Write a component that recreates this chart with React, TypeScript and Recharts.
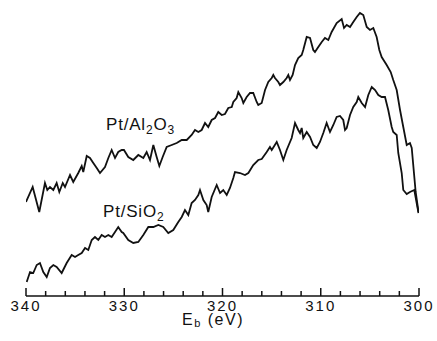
import { LineChart, Line, XAxis, YAxis, Customized } from 'recharts';

// binding energy (eV) and intensity (arb. units)
const al2o3Ev = [
  340.0, 339.32, 338.65, 338.07, 337.83, 337.56, 337.22, 336.88, 336.61, 336.26, 336.03, 335.52, 335.19,
  334.68, 334.33, 334.17, 333.82, 333.49, 333.15, 332.8, 332.47, 331.96, 331.62, 331.28, 330.94, 330.61,
  330.26, 330.03, 329.59, 329.08, 328.57, 328.06, 327.72, 327.38, 327.04, 326.7, 326.43, 326.09, 325.68,
  325.17, 324.66, 324.15, 323.64, 323.14, 322.8, 322.46, 322.12, 321.78, 321.45, 321.1, 320.76, 320.43,
  320.08, 319.75, 319.41, 319.06, 318.9, 318.56, 318.39, 318.05, 317.88, 317.54, 317.2, 316.87, 316.52,
  316.36, 316.01, 315.67, 315.34, 314.99, 314.83, 314.66, 314.32, 314.15, 313.81, 313.47, 313.3, 313.13,
  312.86, 312.62, 312.29, 311.94, 311.78, 311.43, 311.09, 310.76, 310.59, 310.25, 309.9, 309.57, 309.23,
  308.89, 308.38, 307.87, 307.63, 307.36, 307.02, 306.69, 306.34, 306.01, 305.67, 305.32, 304.99, 304.65,
  304.31, 304.04, 303.8, 303.29, 302.88, 302.62, 302.27, 301.93, 301.6, 301.25, 300.92, 300.74, 300.34,
  300.05,
];
const al2o3Counts = [
  94, 109, 84, 113, 106, 109, 106, 113, 104, 113, 109, 121, 114,
  123, 130, 124, 140, 138, 133, 128, 123, 129, 138, 146, 138, 144,
  146, 146, 139, 136, 141, 138, 144, 136, 151, 139, 130, 139, 149,
  151, 153, 156, 156, 161, 166, 164, 166, 173, 169, 176, 178, 184,
  181, 182, 188, 189, 194, 198, 204, 198, 193, 199, 203, 203, 194,
  191, 193, 206, 214, 218, 221, 218, 214, 211, 214, 218, 221, 216,
  221, 231, 238, 241, 246, 259, 258, 246, 244, 249, 254, 258, 256,
  264, 273, 277, 268, 271, 269, 274, 279, 283, 281, 269, 266, 268,
  259, 246, 239, 231, 224, 216, 206, 186, 169, 151, 153, 148, 104,
  84,
];

const sio2Ev = [
  339.93, 339.59, 339.26, 338.91, 338.58, 338.24, 337.89, 337.56, 337.22, 336.88, 336.37, 335.86, 335.35,
  335.01, 334.68, 334.33, 333.99, 333.66, 333.31, 332.98, 332.64, 332.3, 331.96, 331.62, 331.28, 330.94,
  330.61, 330.26, 330.1, 329.59, 329.08, 328.57, 328.06, 327.55, 327.04, 326.53, 326.03, 325.52, 325.01,
  324.5, 324.15, 323.82, 323.48, 323.14, 322.8, 322.46, 322.29, 321.95, 321.61, 321.45, 321.1, 320.59,
  320.25, 319.92, 319.57, 319.24, 318.9, 318.73, 318.22, 317.71, 317.37, 316.87, 316.36, 316.01, 315.5,
  315.17, 314.99, 314.48, 314.15, 313.81, 313.47, 312.96, 312.62, 312.29, 312.11, 311.94, 311.78, 311.43,
  311.09, 310.76, 310.41, 310.08, 309.74, 309.4, 309.06, 308.72, 308.38, 308.04, 307.71, 307.53, 307.36,
  307.02, 306.69, 306.34, 306.18, 305.83, 305.49, 305.16, 304.81, 304.47, 304.14, 303.8, 303.46, 303.13,
  302.78, 302.62, 302.27, 302.11, 301.76, 301.6, 301.25, 300.92, 300.48, 300.05,
];
const sio2Counts = [
  14, 24, 23, 31, 33, 24, 19, 28, 31, 29, 23, 33, 41,
  39, 41, 43, 48, 46, 56, 59, 56, 61, 59, 61, 59, 64,
  69, 64, 63, 56, 53, 54, 61, 69, 69, 71, 69, 63, 66,
  74, 79, 86, 81, 93, 96, 101, 106, 96, 91, 84, 99, 111,
  103, 106, 101, 108, 118, 124, 123, 121, 123, 131, 136, 137, 144,
  149, 146, 154, 146, 136, 146, 158, 173, 166, 163, 168, 158, 164,
  159, 151, 148, 154, 163, 173, 164, 171, 179, 180, 176, 166, 168,
  181, 189, 194, 199, 193, 189, 201, 209, 206, 201, 199, 199, 186,
  169, 164, 161, 143, 123, 106, 102, 104, 106, 83,
];

const majorTicks = [340, 330, 320, 310, 300];
const allTicks = [340, 338, 336, 334, 332, 330, 328, 326, 324, 322, 320, 318, 316, 314, 312, 310, 308, 306, 304, 302, 300];

const al2o3 = al2o3Ev.map((ev, i) => ({ ev, counts: al2o3Counts[i] }));
const sio2 = sio2Ev.map((ev, i) => ({ ev, counts: sio2Counts[i] }));

const W = 437;
const H = 341;
const margin = { top: 6, right: 18, left: 26, bottom: 15 };
const axisHeight = 30;
const axisY = H - margin.bottom - axisHeight; // bottom edge of the plot

const font = '"Liberation Sans", Arial, Helvetica, sans-serif';

// ticks point up into the plot, labels only on the major ones
const BottomTick = (props: any) => {
  const { x, payload } = props;
  const major = majorTicks.includes(payload.value);
  return (
    <g>
      <line x1={x} x2={x} y1={axisY} y2={axisY - (major ? 8 : 5)} stroke="#111" strokeWidth={1.5} />
      {major && (
        <text x={x} y={axisY + 15} textAnchor="middle" fontSize={15} letterSpacing={2} fill="#111" fontFamily={font}>
          {payload.value}
        </text>
      )}
    </g>
  );
};

const Annotations = () => (
  <g fontFamily={font} fill="#111">
    <text x={106} y={130} fontSize={17} letterSpacing={0.8}>
      Pt/Al<tspan fontSize={12} dy={4}>2</tspan><tspan dy={-4}>O</tspan><tspan fontSize={12} dy={4}>3</tspan>
    </text>
    <text x={103} y={217} fontSize={17} letterSpacing={0.8}>
      Pt/SiO<tspan fontSize={12} dy={4}>2</tspan>
    </text>
    <text x={182} y={325} fontSize={16} letterSpacing={1.5}>
      E<tspan fontSize={11} dy={2}>b</tspan><tspan dy={-2}>{'  '}(eV)</tspan>
    </text>
  </g>
);

export default function App() {
  return (
    <div style={{ position: 'absolute', left: 0, top: 0, background: '#fff' }}>
      <LineChart width={W} height={H} margin={margin}>
        <XAxis
          type="number"
          dataKey="ev"
          domain={[300, 340]}
          reversed
          ticks={allTicks}
          interval={0}
          height={axisHeight}
          tickSize={0}
          tickMargin={0}
          tickLine={false}
          axisLine={{ stroke: '#111', strokeWidth: 1.5 }}
          tick={<BottomTick />}
          allowDataOverflow
        />
        <YAxis hide type="number" domain={[0, 290]} />
        <Line data={al2o3} dataKey="counts" stroke="#111" strokeWidth={1.8} dot={false} isAnimationActive={false} />
        <Line data={sio2} dataKey="counts" stroke="#111" strokeWidth={1.8} dot={false} isAnimationActive={false} />
        <Customized component={Annotations} />
      </LineChart>
    </div>
  );
}
